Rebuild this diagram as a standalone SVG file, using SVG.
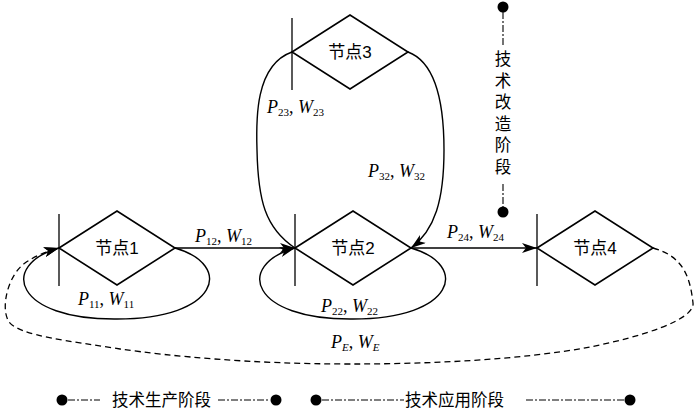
<svg xmlns="http://www.w3.org/2000/svg" width="700" height="412" viewBox="0 0 700 412">
<defs>
<style>
.dia{fill:none;stroke:#000;stroke-width:1.6;stroke-linejoin:miter}
.bar{stroke:#000;stroke-width:1.3}
.nt{font-family:"Liberation Sans","Noto Sans CJK SC",sans-serif;font-size:17px;text-anchor:middle;fill:#000}
.ln{fill:none;stroke:#000;stroke-width:1.6}
.cv{fill:none;stroke:#000;stroke-width:1.4}
.dash{fill:none;stroke:#000;stroke-width:1.3;stroke-dasharray:6 4}
.lb{font-family:"Liberation Serif",serif;font-size:18px;fill:#000}
.it{font-style:italic}
.sb{font-size:11px}
.st{font-family:"Liberation Sans","Noto Sans CJK SC",sans-serif;font-size:16.5px;fill:#000}
.dd{fill:none;stroke:#000;stroke-width:1.1;stroke-dasharray:7 2 2 2}
</style>
<marker id="ah" markerUnits="userSpaceOnUse" markerWidth="16" markerHeight="10" refX="15" refY="5" orient="auto" viewBox="0 0 16 10">
<path d="M0,0 L15,5 L0,10 L4,5 Z" fill="#000"/>
</marker>
</defs>
<rect width="700" height="412" fill="#fff"/>

<g id="connectors">
<line class="ln" x1="175" y1="248" x2="295" y2="248" marker-end="url(#ah)"/>
<line class="ln" x1="411" y1="248" x2="537" y2="248" marker-end="url(#ah)"/>
<path class="cv" d="M175,248 C234,265 219,319 117,319 C14,320 -1,265 59,248" marker-end="url(#ah)"/>
<path class="cv" d="M411,248 C470,265 455,319 353,319 C250,320 235,265 295,248" marker-end="url(#ah)"/>
<path class="cv" d="M292,52 C255,65 256,120 257,150 C258,200 265,228 295,248"/>
<path class="cv" d="M408,52 C435,62 444,100 444,150 C444,200 435,230 411,248" marker-end="url(#ah)"/>
<path class="dash" d="M653,248 C682,256 690,275 693,303 C695,320 640,337 590,347 C520,360 430,364 350,364 C250,364 170,356 120,349 C70,341 20,336 9,322 C0,308 8,275 25,263 C35,256 45,252 59,248" marker-end="url(#ah)"/>
</g>

<g id="labels">
<text class="lb" x="195" y="242"><tspan class="it">P</tspan><tspan class="sb" dy="3">12</tspan><tspan dy="-3">, </tspan><tspan class="it">W</tspan><tspan class="sb" dy="3">12</tspan></text>
<text class="lb" x="78" y="305"><tspan class="it">P</tspan><tspan class="sb" dy="3">11</tspan><tspan dy="-3">, </tspan><tspan class="it">W</tspan><tspan class="sb" dy="3">11</tspan></text>
<text class="lb" x="321" y="312"><tspan class="it">P</tspan><tspan class="sb" dy="3">22</tspan><tspan dy="-3">, </tspan><tspan class="it">W</tspan><tspan class="sb" dy="3">22</tspan></text>
<text class="lb" x="267" y="113"><tspan class="it">P</tspan><tspan class="sb" dy="3">23</tspan><tspan dy="-3">, </tspan><tspan class="it">W</tspan><tspan class="sb" dy="3">23</tspan></text>
<text class="lb" x="368" y="177"><tspan class="it">P</tspan><tspan class="sb" dy="3">32</tspan><tspan dy="-3">, </tspan><tspan class="it">W</tspan><tspan class="sb" dy="3">32</tspan></text>
<text class="lb" x="447" y="238"><tspan class="it">P</tspan><tspan class="sb" dy="3">24</tspan><tspan dy="-3">, </tspan><tspan class="it">W</tspan><tspan class="sb" dy="3">24</tspan></text>
<text class="lb" x="331" y="348"><tspan class="it">P</tspan><tspan class="sb it" dy="3">E</tspan><tspan dy="-3">, </tspan><tspan class="it">W</tspan><tspan class="sb it" dy="3">E</tspan></text>
</g>

<g id="node1">
<polygon class="dia" points="59,248 117,211 175,248 117,285"/>
<line class="bar" x1="59" y1="214" x2="59" y2="286"/>
<text class="nt" x="117" y="254">节点1</text>
</g>
<g id="node2">
<polygon class="dia" points="295,248 353,211 411,248 353,285"/>
<line class="bar" x1="295" y1="214" x2="295" y2="286"/>
<text class="nt" x="353" y="254">节点2</text>
</g>
<g id="node3">
<polygon class="dia" points="292,52 350,15 408,52 350,89"/>
<line class="bar" x1="292" y1="18" x2="292" y2="90"/>
<text class="nt" x="350" y="58">节点3</text>
</g>
<g id="node4">
<polygon class="dia" points="537,248 595,211 653,248 595,285"/>
<line class="bar" x1="537" y1="214" x2="537" y2="286"/>
<text class="nt" x="595" y="254">节点4</text>
</g>

<g id="stage-reform">
<circle cx="503" cy="7" r="5.5" fill="#000"/>
<circle cx="503" cy="212" r="5.5" fill="#000"/>
<line class="dd" x1="503" y1="12" x2="503" y2="46"/>
<line class="dd" x1="503" y1="184" x2="503" y2="207"/>
<text class="st" text-anchor="middle" font-size="17"><tspan x="503" y="65">技</tspan><tspan x="503" y="86.5">术</tspan><tspan x="503" y="108">改</tspan><tspan x="503" y="129.5">造</tspan><tspan x="503" y="151">阶</tspan><tspan x="503" y="172.5">段</tspan></text>
</g>

<g id="stage-production">
<circle cx="62" cy="400" r="5.5" fill="#000"/>
<circle cx="276" cy="400" r="5.5" fill="#000"/>
<line class="dd" x1="68" y1="400" x2="100" y2="400"/>
<line class="dd" x1="218" y1="400" x2="270" y2="400"/>
<text class="st" x="112" y="406">技术生产阶段</text>
</g>

<g id="stage-application">
<circle cx="316" cy="400" r="5.5" fill="#000"/>
<circle cx="630" cy="400" r="5.5" fill="#000"/>
<line class="dd" x1="322" y1="400" x2="404" y2="400"/>
<line class="dd" x1="526" y1="400" x2="624" y2="400"/>
<text class="st" x="405" y="406">技术应用阶段</text>
</g>
</svg>
